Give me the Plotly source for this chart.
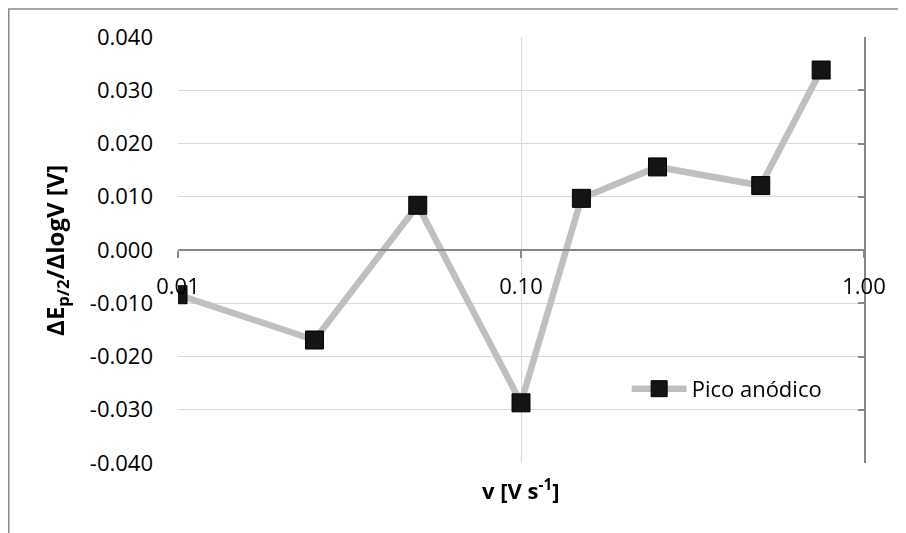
import plotly.graph_objects as go

# Data
scan_rate = [0.01, 0.025, 0.05, 0.10, 0.15, 0.25, 0.50, 0.75]
delta_ep = [-0.0084, -0.0169, 0.0084, -0.0287, 0.0097, 0.0156, 0.0121, 0.0338]
series_name = "Pico anódico"
x_tickvals = [0.01, 0.1, 1.0]
x_ticktext = ["0.01", "0.10", "1.00"]
y_tickvals = [-0.04, -0.03, -0.02, -0.01, 0.0, 0.01, 0.02, 0.03, 0.04]
y_ticktext = ["-0.040", "-0.030", "-0.020", "-0.010", "0.000",
              "0.010", "0.020", "0.030", "0.040"]

FONT = "Open Sans"
AX = "#878787"
GRID = "#d9d9d9"

fig = go.Figure()
fig.add_trace(go.Scatter(
    x=scan_rate, y=delta_ep, mode="lines+markers", name=series_name,
    line=dict(color="#bfbfbf", width=6.5),
    marker=dict(symbol="square", size=18, color="#141414",
                line=dict(color="#000000", width=1)),
))
# invisible trace to host the right-hand y axis line
fig.add_trace(go.Scatter(
    x=scan_rate, y=delta_ep, yaxis="y2", mode="markers", opacity=0,
    showlegend=False, hoverinfo="skip",
))

# the page body adds an 8px offset; compensate in size and margins
fig.update_layout(
    width=898, height=525,
    margin=dict(l=170, r=42, t=29, b=70, autoexpand=False),
    paper_bgcolor="white", plot_bgcolor="white",
    font=dict(family=FONT, size=22, color="#000000"),
    xaxis=dict(
        type="log", range=[-2, 0],
        tickvals=x_tickvals, ticktext=x_ticktext,
        showgrid=True, gridcolor=GRID, gridwidth=1.3,
        showline=True, linecolor=AX, linewidth=1.5,
        ticks="outside", ticklen=7, tickcolor=AX, tickwidth=1.5,
        anchor="free", position=0.5,
        ticklabelstandoff=10,
        tickfont=dict(size=22),
        zeroline=False, automargin=False,
    ),
    yaxis=dict(
        range=[-0.04, 0.04], tickvals=y_tickvals, ticktext=y_ticktext,
        showgrid=True, gridcolor=GRID, gridwidth=1.3,
        showline=False, zeroline=False, ticks="",
        ticklabelstandoff=24,
        tickfont=dict(size=22), automargin=False,
    ),
    yaxis2=dict(
        range=[-0.04, 0.04], tickvals=y_tickvals, overlaying="y", side="right",
        anchor="x", showgrid=False, zeroline=False,
        showline=True, linecolor=AX, linewidth=1.5,
        ticks="inside", ticklen=6, tickcolor=AX, tickwidth=1.5,
        showticklabels=False, automargin=False,
    ),
    legend=dict(
        x=0.654, y=0.174, xanchor="left", yanchor="middle",
        bgcolor="rgba(0,0,0,0)", borderwidth=0,
        font=dict(size=22), itemwidth=55,
    ),
    showlegend=True,
)

fig.add_annotation(
    text="<b>ΔE<sub>p/2</sub>/ΔlogV [V]</b>", xref="paper", yref="paper",
    x=-0.178, y=0.5, textangle=-90, showarrow=False,
    xanchor="center", yanchor="middle", font=dict(size=24),
)
fig.add_annotation(
    text="<b>v [V s<sup>-1</sup>]</b>", xref="paper", yref="paper",
    x=0.5, y=-0.063, showarrow=False,
    xanchor="center", yanchor="middle", font=dict(size=22),
)

# chart-area border (cropped at right and bottom in the reference)
fig.add_shape(type="rect", xref="paper", yref="paper",
              x0=-0.2467, x1=1.2, y0=-0.4, y1=1.0655,
              line=dict(color="#8a8a8a", width=1.5), layer="below")

fig.write_html("out.html")
